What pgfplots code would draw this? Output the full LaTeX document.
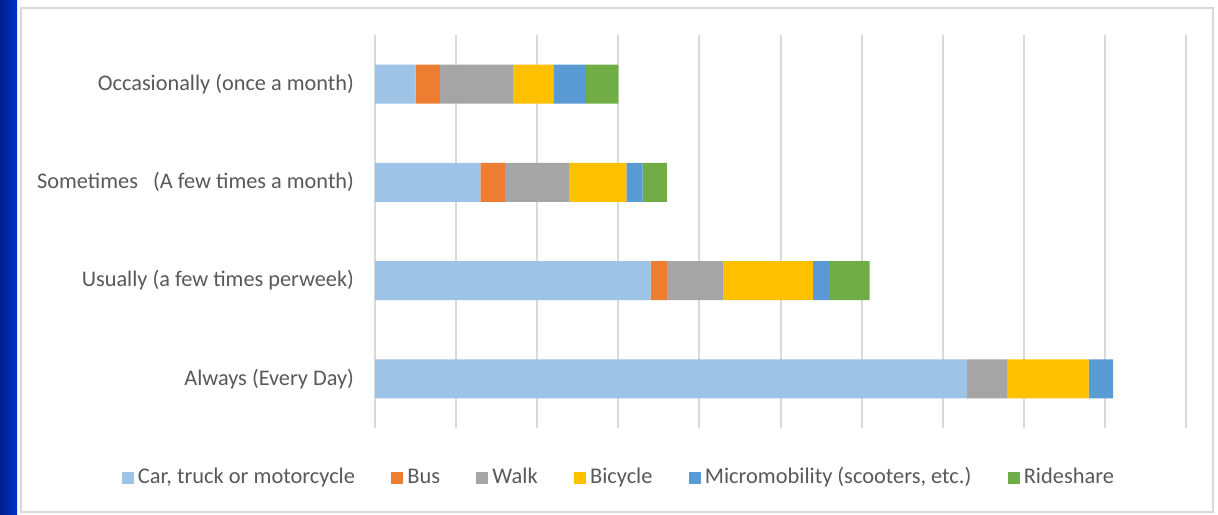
\documentclass[border=0pt]{standalone}
\usepackage{fontspec}
\setmainfont{Carlito}
\usepackage{pgfplots}
\pgfplotsset{compat=1.18}
\definecolor{carC}{HTML}{9DC3E6}
\definecolor{busC}{HTML}{ED7D31}
\definecolor{walkC}{HTML}{A5A5A5}
\definecolor{bikeC}{HTML}{FFC000}
\definecolor{microC}{HTML}{5B9BD5}
\definecolor{rideC}{HTML}{70AD47}
\definecolor{gridC}{HTML}{D9D9D9}
\definecolor{textC}{HTML}{595959}
\definecolor{navyL}{HTML}{001E8C}
\definecolor{navyR}{HTML}{0033CC}
\begin{document}
\begin{tikzpicture}[x=1pt,y=1pt]
\fill[white] (0,0) rectangle (609,257);
\shade[left color=navyL, right color=navyR] (0,0) rectangle (8.5,257);
\draw[gridC, line width=1pt] (10.5,1) rectangle (606.5,253);
\begin{axis}[
  at={(187.5pt,43pt)}, anchor=south west,
  scale only axis, width=405.5pt, height=196.5pt,
  xmin=0, xmax=50, ymin=-0.5, ymax=3.5,
  xbar stacked, bar width=19.5pt,
  xtick={0,5,...,50}, xticklabels={},
  xmajorgrids, grid style={line width=1pt, color=gridC},
  axis line style={draw=none}, tick style={draw=none},
  ytick={0,1,2,3},
  yticklabels={Always (Every Day), Usually (a few times perweek), {Sometimes\ \ \ (A few times a month)}, Occasionally (once a month)},
  yticklabel style={font=\fontsize{11.15}{13}\selectfont, text=textC, xshift=-7pt},
  legend style={at={(0.302,-0.1296)}, anchor=center, draw=none, fill=none,
    legend columns=6, font=\fontsize{11.2}{13}\selectfont, text=textC,
    nodes={text height=0.72em, text depth=0.25em},
    /tikz/every even column/.append style={column sep=16.2pt},
    legend cell align=left},
  legend image code/.code={\fill[#1] (0pt,-2.6pt) rectangle (6pt,3.4pt);},
]
\addplot[fill=carC, draw=none] coordinates {(36.5,0) (17,1) (6.5,2) (2.5,3)};
\addlegendentry{Car, truck or motorcycle}
\addplot[fill=busC, draw=none] coordinates {(0,0) (1,1) (1.5,2) (1.5,3)};
\addlegendentry{Bus}
\addplot[fill=walkC, draw=none] coordinates {(2.5,0) (3.5,1) (4,2) (4.5,3)};
\addlegendentry{Walk}
\addplot[fill=bikeC, draw=none] coordinates {(5,0) (5.5,1) (3.5,2) (2.5,3)};
\addlegendentry{Bicycle}
\addplot[fill=microC, draw=none] coordinates {(1.5,0) (1,1) (1,2) (2,3)};
\addlegendentry{Micromobility (scooters, etc.)}
\addplot[fill=rideC, draw=none] coordinates {(0,0) (2.5,1) (1.5,2) (2,3)};
\addlegendentry{Rideshare}
\end{axis}
\end{tikzpicture}
\end{document}
